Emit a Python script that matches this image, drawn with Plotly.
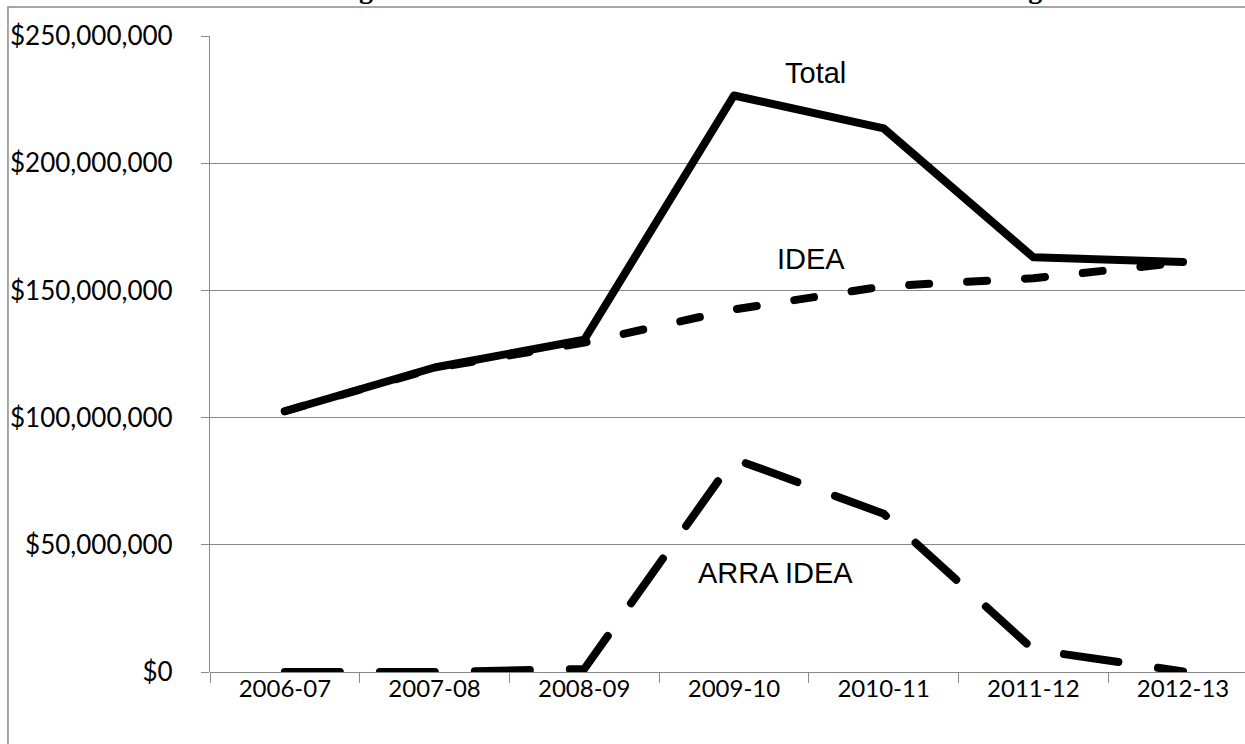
import plotly.graph_objects as go

# Fiscal years on the category axis
years = ["2006-07", "2007-08", "2008-09", "2009-10", "2010-11", "2011-12", "2012-13"]

# Federal revenue by source (dollars)
total = [102_500_000, 119_700_000, 130_600_000, 226_600_000, 213_700_000, 163_000_000, 161_200_000]
idea = [102_500_000, 119_400_000, 129_500_000, 142_500_000, 151_600_000, 154_800_000, 161_000_000]
arra_idea = [0, 0, 1_200_000, 83_800_000, 62_200_000, 8_800_000, 200_000]

# Series name labels placed beside the lines: (text, category position, dollars)
series_labels = [
    ("Total", 3.543, 235_500_000),
    ("IDEA", 3.513, 162_300_000),
    ("ARRA IDEA", 3.28, 38_900_000),
]

title_text = "Figure 11. Federal IDEA Revenue Received as Pass-Through"

GRID = "#8a8a8a"

fig = go.Figure()

fig.add_trace(go.Scatter(
    x=years, y=arra_idea, mode="lines", name="ARRA IDEA",
    line=dict(color="black", width=8, dash="55px,40px"),
))
fig.add_trace(go.Scatter(
    x=years, y=idea, mode="lines", name="IDEA",
    line=dict(color="black", width=8, dash="20px,38px"),
))
fig.add_trace(go.Scatter(
    x=years, y=total, mode="lines", name="Total",
    line=dict(color="black", width=8),
))

for text, xpos, ypos in series_labels:
    fig.add_annotation(
        x=xpos, y=ypos, xref="x", yref="y", text=text, showarrow=False,
        font=dict(family="Liberation Sans", size=29, color="#000000"),
        xanchor="center", yanchor="middle",
    )

# Chart title sitting at the very top edge
fig.add_annotation(
    x=0.4696, y=1.047, xref="paper", yref="paper", text="<b>" + title_text + "</b>",
    showarrow=False, xanchor="center", yanchor="bottom",
    font=dict(family="Liberation Serif", size=28, color="#000000"),
)

# Outer chart border
fig.add_shape(
    type="rect", xref="paper", yref="paper",
    x0=-0.1952, x1=1.2, y0=-0.3, y1=1.0456,
    line=dict(color=GRID, width=1.5), fillcolor="rgba(0,0,0,0)", layer="below",
)

fig.update_layout(
    width=1245, height=744,
    margin=dict(l=210, r=0, t=36, b=72),
    paper_bgcolor="white", plot_bgcolor="white",
    showlegend=False,
    xaxis=dict(
        type="category", range=[-0.5, 6.414],
        showgrid=False, showline=False, zeroline=False,
        ticks="outside", tickson="boundaries", ticklen=10, tickcolor=GRID, tickwidth=1.3,
        tickfont=dict(family="Lato", size=24, color="#000000"),
    ),
    yaxis=dict(
        range=[0, 250_000_000], dtick=50_000_000,
        tickformat="$,.0f",
        showgrid=True, gridcolor=GRID, gridwidth=1.3,
        showline=True, linecolor=GRID, linewidth=1.3,
        zeroline=True, zerolinecolor=GRID, zerolinewidth=1.3,
        ticks="outside", ticklen=8, tickcolor=GRID, tickwidth=1.3,
        ticklabelstandoff=23,
        tickfont=dict(family="Lato", size=26, color="#000000"),
    ),
)

# Round the ends of the line strokes
post = """
var gd = document.querySelector('.plotly-graph-div');
function roundCaps(){
  gd.querySelectorAll('.scatterlayer path.js-line').forEach(function(p){
    p.style.strokeLinecap = 'round';
    p.style.strokeLinejoin = 'round';
  });
}
roundCaps();
gd.on('plotly_afterplot', roundCaps);
"""

fig.write_html("out.html", post_script=post)
